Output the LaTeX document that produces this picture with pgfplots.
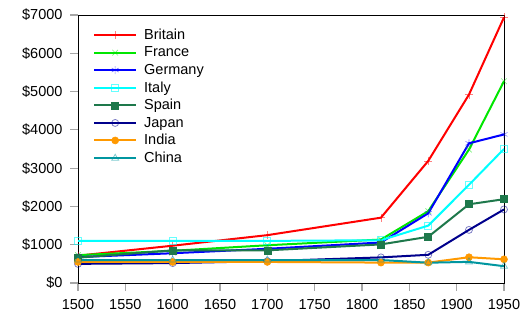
\documentclass[border=0pt]{standalone}
\usepackage{fontspec}
\setmainfont{Liberation Sans}
\usepackage{pgfplots}
\pgfplotsset{compat=1.18}
\definecolor{cBritain}{RGB}{255,0,0}
\definecolor{cFrance}{RGB}{0,230,0}
\definecolor{cGermany}{RGB}{0,0,255}
\definecolor{cItaly}{RGB}{0,255,255}
\definecolor{cSpain}{RGB}{30,120,75}
\definecolor{cJapan}{RGB}{0,0,140}
\definecolor{cIndia}{RGB}{255,153,0}
\definecolor{cChina}{RGB}{0,150,160}
\begin{document}
\begin{tikzpicture}
\begin{axis}[
  scale only axis,
  width=426bp, height=268bp,
  xmin=1500, xmax=1950, ymin=0, ymax=7000,
  xtick={1500,1550,...,1950},
  ytick={0,1000,...,7000},
  /pgf/number format/assume math mode=true,
  /pgf/number format/set thousands separator={},
  yticklabel={\$\pgfmathprintnumber{\tick}},
  xticklabel style={/pgf/number format/1000 sep={}},
  tick label style={font=\fontsize{14.5bp}{16bp}\selectfont},
  tick align=outside,
  xtick pos=bottom, ytick pos=left,
  major tick length=8bp,
  tick style={gray!70, line width=1.2bp},
  axis line style={black, line width=0.8bp},
  xticklabel shift=5bp,
  yticklabel shift=4bp,
  every axis plot/.append style={line width=2bp},
  legend cell align=left,
  legend style={draw=none, fill=none, at={(0,1)}, anchor=north west,
    xshift=12bp, yshift=-10bp,
    font=\fontsize{14.5bp}{16bp}\selectfont,
    row sep=1.8bp,
    /tikz/every odd column/.append style={column sep=5bp}},
  legend image code/.code={\draw[mark repeat=2,mark phase=2] plot coordinates {(0bp,0bp)(21bp,0bp)(42bp,0bp)};},
]
\coordinate (O) at (rel axis cs:0,0);
\addplot[cBritain, mark=+, mark size=4bp, mark options={line width=0.6bp, draw opacity=0.5}] coordinates {(1500,714)(1600,974)(1700,1250)(1820,1706)(1870,3190)(1913,4921)(1950,6939)};
\addlegendentry{Britain}
\addplot[cFrance, mark=x, mark size=4bp, mark options={line width=0.6bp, draw opacity=0.5}] coordinates {(1500,727)(1600,841)(1700,986)(1820,1135)(1870,1876)(1913,3485)(1950,5270)};
\addlegendentry{France}
\addplot[cGermany, mark=asterisk, mark size=4bp, mark options={line width=0.6bp, draw opacity=0.5}] coordinates {(1500,676)(1600,777)(1700,894)(1820,1058)(1870,1821)(1913,3648)(1950,3881)};
\addlegendentry{Germany}
\addplot[cItaly, mark=square, mark size=3.5bp, mark options={line width=0.8bp, draw opacity=0.6}] coordinates {(1500,1100)(1600,1100)(1700,1100)(1820,1117)(1870,1499)(1913,2564)(1950,3502)};
\addlegendentry{Italy}
\addplot[cSpain, mark=square*, mark size=3.5bp, mark options={line width=0.6bp}] coordinates {(1500,661)(1600,853)(1700,853)(1820,1008)(1870,1207)(1913,2056)(1950,2189)};
\addlegendentry{Spain}
\addplot[cJapan, mark=o, mark size=3.5bp, mark options={line width=0.8bp, draw opacity=0.5}] coordinates {(1500,500)(1600,520)(1700,570)(1820,669)(1870,737)(1913,1387)(1950,1921)};
\addlegendentry{Japan}
\addplot[cIndia, mark=*, mark size=3.5bp, mark options={line width=0.6bp}] coordinates {(1500,550)(1600,550)(1700,550)(1820,533)(1870,533)(1913,673)(1950,619)};
\addlegendentry{India}
\addplot[cChina, mark=triangle, mark size=4bp, mark options={line width=0.8bp, draw opacity=0.5}] coordinates {(1500,600)(1600,600)(1700,600)(1820,600)(1870,530)(1913,552)(1950,439)};
\addlegendentry{China}
\end{axis}
\path[use as bounding box] (O) ++(-78bp,-45bp) rectangle ++(525bp,328bp);
\end{tikzpicture}
\end{document}
